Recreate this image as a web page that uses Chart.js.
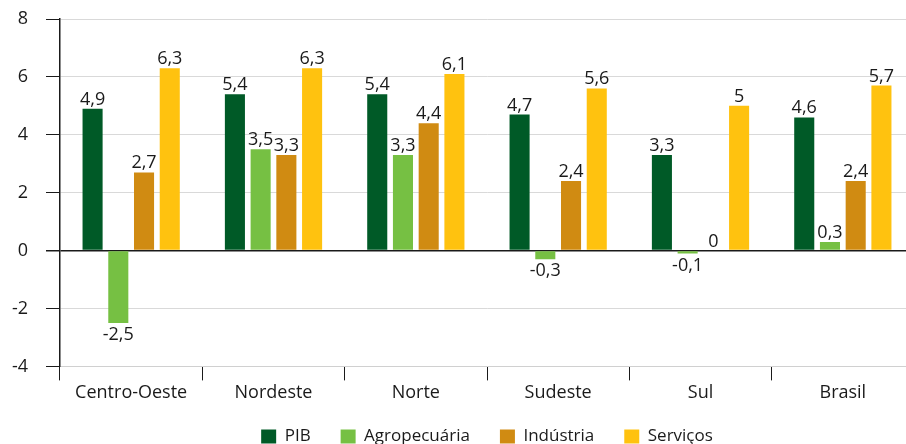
<!DOCTYPE html>
<html>
<head>
<meta charset="utf-8">
<script src="https://cdn.jsdelivr.net/npm/chart.js@4/dist/chart.umd.min.js"></script>
<style>
  html, body { margin: 0; padding: 0; background: #fff; }
  #wrap { width: 906px; height: 444px; overflow: hidden; }
  #wrap div { width: 974px; height: 444px; }
</style>
</head>
<body>
<div id="wrap"><div><canvas id="chart"></canvas></div></div>
<script>
const regions = ['Centro-Oeste', 'Nordeste', 'Norte', 'Sudeste', 'Sul', 'Brasil'];
const pib = [4.9, 5.4, 5.4, 4.7, 3.3, 4.6];
const agropecuaria = [-2.5, 3.5, 3.3, -0.3, -0.1, 0.3];
const industria = [2.7, 3.3, 4.4, 2.4, 0, 2.4];
const servicos = [6.3, 6.3, 6.1, 5.6, 5, 5.7];

const textColor = '#1a1a1a';
const font = 'Open Sans';

// value labels above / below each bar
const barLabels = {
    id: 'barLabels',
    afterDatasetsDraw(chart) {
        const ctx = chart.ctx;
        ctx.save();
        ctx.font = '18px "' + font + '"';
        ctx.fillStyle = textColor;
        ctx.textAlign = 'center';
        chart.data.datasets.forEach((ds, i) => {
            chart.getDatasetMeta(i).data.forEach((bar, j) => {
                const v = ds.data[j];
                const txt = String(v).replace('.', ',');
                if (v < 0) {
                    ctx.textBaseline = 'top';
                    ctx.fillText(txt, bar.x, bar.y + 3);
                } else {
                    ctx.textBaseline = 'alphabetic';
                    ctx.fillText(txt, bar.x, bar.y - 4);
                }
            });
        });
        ctx.restore();
    }
};

Chart.defaults.font.family = font;
Chart.defaults.font.size = 18;
Chart.defaults.color = textColor;

new Chart(document.getElementById('chart'), {
    type: 'bar',
    data: {
        labels: regions,
        datasets: [
            { label: 'PIB', data: pib, backgroundColor: '#005a27' },
            { label: 'Agropecuária', data: agropecuaria, backgroundColor: '#76c043' },
            { label: 'Indústria', data: industria, backgroundColor: '#d08b12' },
            { label: 'Serviços', data: servicos, backgroundColor: '#ffc20f' }
        ]
    },
    options: {
        responsive: true,
        maintainAspectRatio: false,
        animation: false,
        categoryPercentage: 0.723,
        barPercentage: 0.78,
        layout: { padding: { top: 0, bottom: -11 } },
        plugins: {
            legend: {
                position: 'bottom',
                labels: {
                    boxWidth: 15,
                    boxHeight: 14,
                    padding: 30,
                    font: { size: 17 }
                }
            },
            tooltip: { enabled: false }
        },
        scales: {
            x: {
                grid: {
                    drawOnChartArea: false,
                    tickLength: 14,
                    tickColor: textColor
                },
                border: { color: '#d0d0d0' },
                ticks: { padding: 2 },
                afterFit: s => { s.height -= 8; }
            },
            y: {
                min: -4,
                max: 8,
                ticks: { stepSize: 2, padding: 18 },
                grid: {
                    color: c => c.tick && c.tick.value === 0 ? textColor : '#d9d9d9',
                    lineWidth: c => c.tick && c.tick.value === 0 ? 1.5 : 1,
                    tickColor: textColor,
                    tickLength: 14
                },
                border: { color: textColor, width: 1.5 },
                afterFit: s => {
                    s.width = 60;
                    s.paddingTop = 19;
                    s.paddingBottom = 0;
                }
            },
            pad: {
                position: 'right',
                display: true,
                ticks: { display: false },
                grid: { display: false },
                border: { display: false },
                afterFit: s => { s.width = 60; }
            }
        }
    },
    plugins: [barLabels]
});
</script>
</body>
</html>
